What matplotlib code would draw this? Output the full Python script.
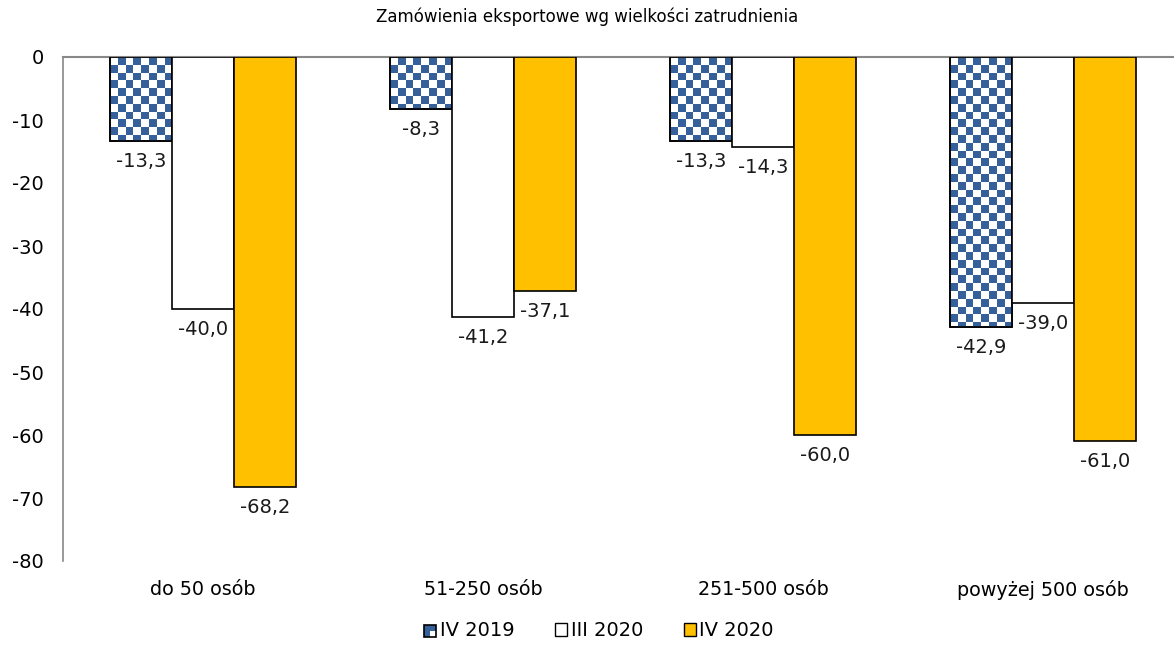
import numpy as np
import matplotlib.pyplot as plt
from matplotlib.patches import Patch, Rectangle
from matplotlib.collections import PatchCollection
from matplotlib.legend_handler import HandlerBase

categories = ["do 50 osób", "51-250 osób", "251-500 osób", "powyżej 500 osób"]
series_names = ["IV 2019", "III 2020", "IV 2020"]
iv_2019 = [-13.3, -8.3, -13.3, -42.9]
iii_2020 = [-40.0, -41.2, -14.3, -39.0]
iv_2020 = [-68.2, -37.1, -60.0, -61.0]

BLUE = "#35609a"
YELLOW = "#ffc000"

plt.rcParams['font.family'] = ['DejaVu Sans']

fig = plt.figure(figsize=(11.74, 6.46), dpi=100)
ax = fig.add_axes([63 / 1174, 85 / 646, 1111 / 1174, 504 / 646])

x = np.arange(len(categories))
w = 0.2214
ax.set_xlim(-0.5, 3.468)
ax.set_ylim(-80, 0)
ax.autoscale(False)


def fmt(v):
    return f"{v:.1f}".replace(".", ",")


def checker_fill(bar, cell_px=7.8):
    # blue squares of a checkerboard, clipped to the bar outline
    x0, y0 = bar.get_x(), bar.get_y()
    x1, y1 = x0 + bar.get_width(), y0 + bar.get_height()
    top, bot = max(y0, y1), min(y0, y1)
    p0 = ax.transData.transform((x0, top))
    p1 = ax.transData.transform((x1, bot))
    dx = cell_px * (x1 - x0) / abs(p1[0] - p0[0])
    dy = cell_px * (top - bot) / abs(p1[1] - p0[1])
    nx = int(np.ceil((x1 - x0) / dx))
    ny = int(np.ceil((top - bot) / dy))
    cells = [Rectangle((x0 + i * dx, top - (j + 1) * dy), dx, dy)
             for j in range(ny) for i in range(nx) if (i + j) % 2 == 1]
    pc = PatchCollection(cells, facecolor=BLUE, edgecolor="none",
                         antialiased=False, zorder=2)
    ax.add_collection(pc)
    pc.set_clip_path(bar)


class CheckerHandler(HandlerBase):
    def create_artists(self, legend, orig_handle, xd, yd, width, height, fontsize, trans):
        s = min(width, height)
        x0, y0 = xd + (width - s) / 2, yd + (height - s) / 2
        base = Rectangle((x0, y0), s, s, facecolor=BLUE, edgecolor="none", transform=trans)
        cell = Rectangle((x0 + s / 2, y0), s / 2, s / 2, facecolor="white",
                         edgecolor="none", transform=trans)
        frame = Rectangle((x0, y0), s, s, facecolor="none", edgecolor="black",
                          linewidth=1.2, transform=trans)
        return [base, cell, frame]


groups = [(iv_2019, -w, "white"), (iii_2020, 0, "white"), (iv_2020, w, YELLOW)]
for k, (vals, off, col) in enumerate(groups):
    bars = ax.bar(x + off, vals, width=w, color=col, edgecolor="black",
                  linewidth=1.2, zorder=3 if k else 1)
    for b, v in zip(bars, vals):
        if k == 0:
            checker_fill(b)
            ax.bar(b.get_x() + w / 2, v, width=w, facecolor="none",
                   edgecolor="black", linewidth=1.2, zorder=3)
        ax.annotate(fmt(v), (b.get_x() + w / 2, v), xytext=(0, -8),
                    textcoords="offset points", ha="center", va="top",
                    fontsize=14, color="#1a1a1a", zorder=4)

ax.set_xlim(-0.5, 3.468)
ax.set_ylim(-80, 0)

ax.set_yticks(np.arange(-80, 1, 10))
ax.set_yticklabels([str(t) for t in range(-80, 1, 10)])
ax.set_xticks(x)
ax.set_xticklabels(categories)
ax.tick_params(axis="y", length=0, pad=14, labelsize=14)
ax.tick_params(axis="x", length=0, pad=14, labelsize=13.8)

for s in ("right", "bottom"):
    ax.spines[s].set_visible(False)
ax.spines["left"].set_color("#888888")
ax.spines["top"].set_color("#888888")
ax.spines["left"].set_linewidth(1.2)
ax.spines["top"].set_linewidth(1.5)

fig.text(587 / 1174, 1 - 17 / 646, "Zamówienia eksportowe wg wielkości zatrudnienia",
         ha="center", va="center", fontsize=12)

handles = [Patch(facecolor=BLUE, edgecolor="black", label=series_names[0]),
           Patch(facecolor="white", edgecolor="black", label=series_names[1]),
           Patch(facecolor=YELLOW, edgecolor="black", label=series_names[2])]
fig.legend(handles=handles, loc="center", bbox_to_anchor=(599 / 1174, 1 - 631 / 646),
           ncol=3, frameon=False, fontsize=14, handlelength=0.6, handleheight=0.6,
           handletextpad=0.2, columnspacing=2.1,
           handler_map={handles[0]: CheckerHandler()})

fig.savefig("out.png", dpi=100)
